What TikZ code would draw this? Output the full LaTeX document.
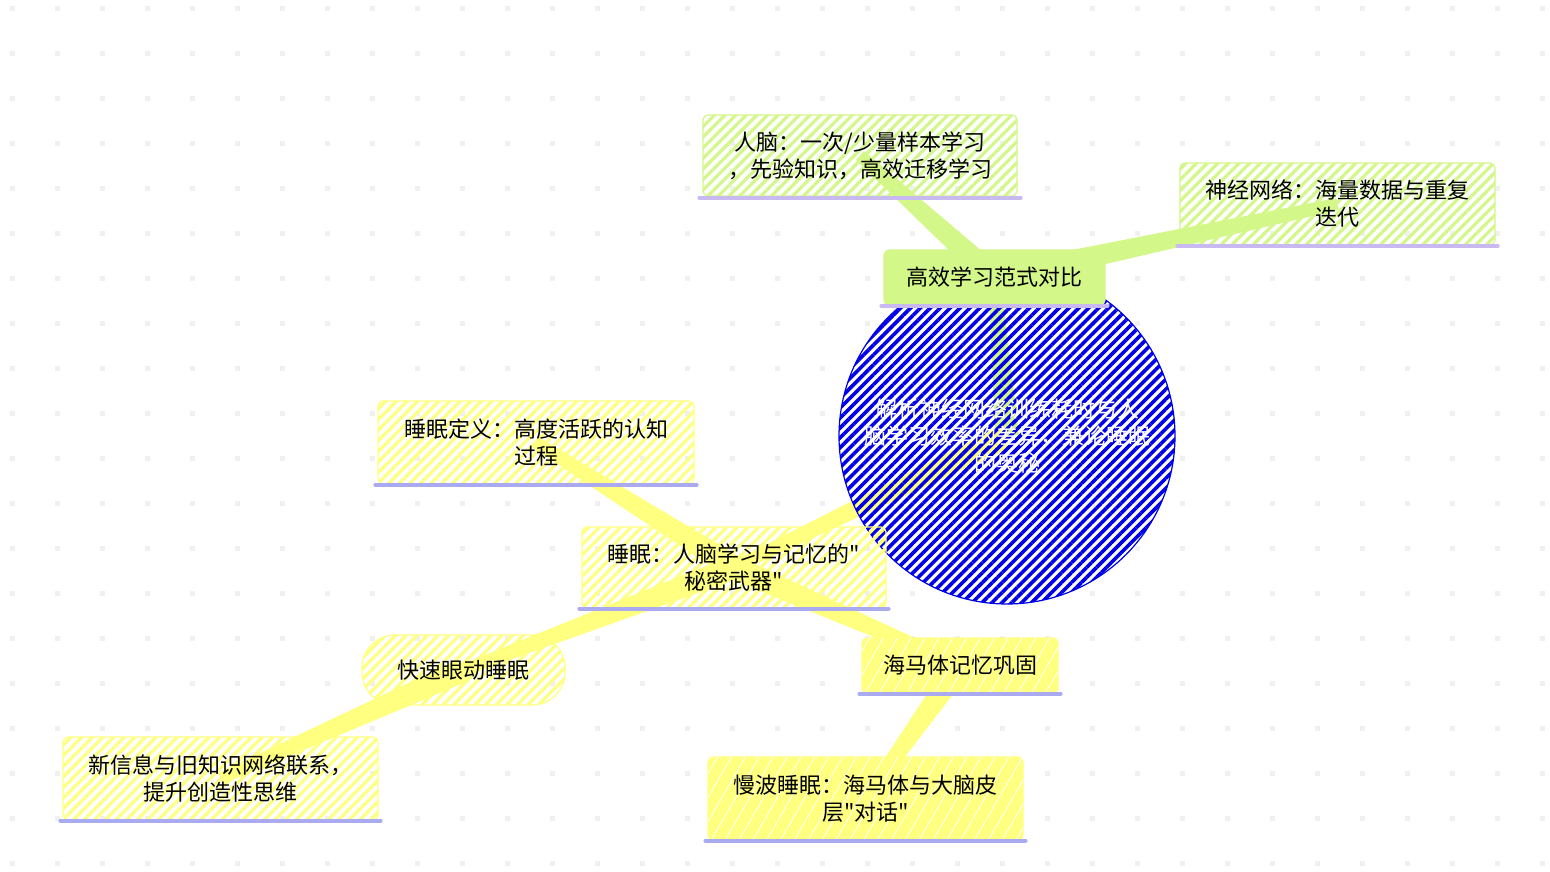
\documentclass[tikz,border=0pt]{standalone}
\usepackage{fontspec}
\newfontfamily\cjk{Noto Sans CJK SC}
\usetikzlibrary{calc,patterns.meta}
\definecolor{nodegreen}{RGB}{212,247,138}
\definecolor{nodeyellow}{RGB}{255,255,128}
\definecolor{ulgreen}{RGB}{200,186,240}
\definecolor{ulyellow}{RGB}{170,170,240}
\definecolor{hatchblue}{RGB}{0,0,230}
\definecolor{dotgray}{RGB}{240,240,240}
\pgfdeclarelayer{dots}
\pgfdeclarelayer{links}
\pgfsetlayers{dots,links,main}
% tapered branch: parent, child, colour
\newcommand{\taper}[3]{\fill[#3] ($(#1)!12pt!90:(#2)$) -- ($(#2)!6pt!-90:(#1)$) -- ($(#2)!6pt!90:(#1)$) -- ($(#1)!12pt!-90:(#2)$) -- cycle;}

\begin{document}
\begin{tikzpicture}[x=1pt,y=-1pt,
  every node/.style={font=\cjk\fontsize{22}{27}\selectfont,align=center,inner sep=0pt},
  box/.style={rectangle,rounded corners=5pt,line width=1.2pt},
  hatchgreen/.style={box,draw=nodegreen,pattern={Lines[angle=45,distance=7.5pt,line width=3.2pt]},pattern color=nodegreen},
  hatchyellow/.style={box,draw=nodeyellow,pattern={Lines[angle=45,distance=7.5pt,line width=3.2pt]},pattern color=nodeyellow},
  solidgreen/.style={box,draw=nodegreen,fill=nodegreen},
  solidyellow/.style={box,draw=nodeyellow,fill=nodeyellow,postaction={pattern={Lines[angle=60,distance=12pt,line width=0.8pt]},pattern color=white}},
  ul/.style={line width=4pt,line cap=round}]
\useasboundingbox (0,0) rectangle (1550,872);
\begin{pgfonlayer}{dots}
\fill[white] (0,0) rectangle (1550,872);
\foreach \i in {0,...,34}
  \foreach \j in {0,...,19}
    \fill[dotgray] (10+45*\i,6+45*\j) rectangle ++(5,5);
\end{pgfonlayer}

\node[circle,draw=hatchblue,line width=1.2pt,minimum size=336pt,text=white,
  pattern={Lines[angle=45,distance=7pt,line width=3.6pt]},pattern color=hatchblue]
  (core) at (1007,436) {解析神经网络训练耗时与人\\脑学习效率的差异，兼论睡眠\\的奥秘};

\node[solidgreen,minimum width=221pt,minimum height=55pt] (kpa) at (994.5,277.5) {高效学习范式对比};
\node[hatchgreen,minimum width=314pt,minimum height=81pt] (rn) at (860,155.5) {人脑：一次/少量样本学习\\，先验知识，高效迁移学习};
\node[hatchgreen,minimum width=315pt,minimum height=82pt] (sj) at (1337.5,204) {神经网络：海量数据与重复\\迭代};

\node[hatchyellow,minimum width=304pt,minimum height=81pt] (sm) at (734,567.5) {睡眠：人脑学习与记忆的"\\秘密武器"};
\node[hatchyellow,minimum width=316pt,minimum height=83pt] (dy) at (536,442.5) {睡眠定义：高度活跃的认知\\过程};
\node[hatchyellow,rounded corners=33pt,minimum width=203pt,minimum height=70pt] (rem) at (463.5,670) {快速眼动睡眠};
\node[solidyellow,minimum width=196pt,minimum height=55pt] (hm) at (960,665.5) {海马体记忆巩固};
\node[hatchyellow,minimum width=315pt,minimum height=83pt] (xx) at (220.5,778.5) {新信息与旧知识网络联系，\\提升创造性思维};
\node[solidyellow,minimum width=315pt,minimum height=83pt] (mb) at (865.5,798.5) {慢波睡眠：海马体与大脑皮\\层"对话"};

% underlines
\foreach \n in {kpa,rn,sj}
  \draw[ul,ulgreen] ([xshift=-2pt]\n.south west) -- ([xshift=2pt]\n.south east);
\foreach \n in {sm,dy,hm,xx,mb}
  \draw[ul,ulyellow] ([xshift=-2pt]\n.south west) -- ([xshift=2pt]\n.south east);

\begin{pgfonlayer}{links}
\taper{core}{kpa}{nodegreen}
\taper{kpa}{rn}{nodegreen}
\taper{kpa}{sj}{nodegreen}
\taper{core}{sm}{nodeyellow}
\taper{sm}{dy}{nodeyellow}
\taper{sm}{rem}{nodeyellow}
\taper{rem}{xx}{nodeyellow}
\taper{sm}{hm}{nodeyellow}
\taper{hm}{mb}{nodeyellow}
\end{pgfonlayer}
\end{tikzpicture}
\end{document}
